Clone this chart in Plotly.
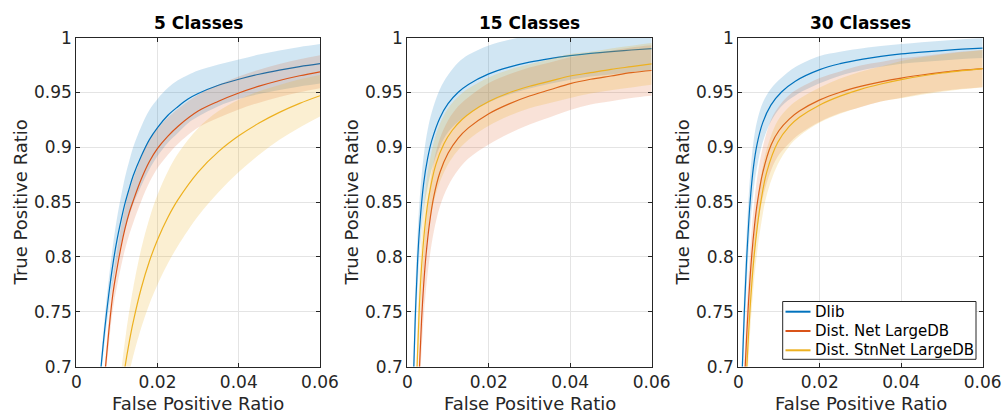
import plotly.graph_objects as go

# ---------------- data ----------------
PANEL_TITLES = ["5 Classes", "15 Classes", "30 Classes"]
SERIES_NAMES = ["Dlib", "Dist. Net LargeDB", "Dist. StnNet LargeDB"]
X_TICKS = [0, 0.02, 0.04, 0.06]
X_TICK_TEXT = ["0", "0.02", "0.04", "0.06"]
Y_TICKS = [0.7, 0.75, 0.8, 0.85, 0.9, 0.95, 1.0]
Y_TICK_TEXT = ["0.7", "0.75", "0.8", "0.85", "0.9", "0.95", "1"]

# ---- 5 classes ----
FPR_DLIB_5 = [0.0055, 0.0061, 0.007, 0.008, 0.009, 0.010, 0.011, 0.012, 0.013, 0.014, 0.016, 0.018, 0.020, 0.0225, 0.025, 0.0275, 0.030, 0.035, 0.040, 0.045, 0.050, 0.055, 0.060]
TPR_DLIB_5 = [0.673, 0.700, 0.734, 0.766, 0.793, 0.815, 0.833, 0.849, 0.862, 0.874, 0.892, 0.907, 0.918, 0.929, 0.937, 0.944, 0.949, 0.9565, 0.962, 0.9666, 0.9703, 0.9735, 0.9762]
SD_DLIB_5 = [0.006, 0.008, 0.011, 0.014, 0.017, 0.020, 0.022, 0.024, 0.025, 0.026, 0.027, 0.027, 0.026, 0.025, 0.024, 0.022, 0.021, 0.019, 0.018, 0.018, 0.018, 0.018, 0.018]

FPR_NET_5 = [0.0066, 0.0072, 0.008, 0.009, 0.010, 0.011, 0.012, 0.013, 0.014, 0.016, 0.018, 0.020, 0.0225, 0.025, 0.030, 0.035, 0.040, 0.045, 0.050, 0.055, 0.060]
TPR_NET_5 = [0.671, 0.700, 0.732, 0.766, 0.789, 0.809, 0.826, 0.840, 0.851, 0.871, 0.887, 0.899, 0.910, 0.919, 0.933, 0.942, 0.9495, 0.9557, 0.9609, 0.9652, 0.9688]
SD_NET_5 = [0.008, 0.010, 0.012, 0.014, 0.016, 0.018, 0.019, 0.020, 0.020, 0.020, 0.019, 0.018, 0.017, 0.016, 0.015, 0.015, 0.015, 0.015, 0.015, 0.015, 0.015]

FPR_STN_5 = [0.011, 0.012, 0.013, 0.014, 0.016, 0.018, 0.020, 0.0225, 0.025, 0.030, 0.035, 0.040, 0.045, 0.050, 0.055, 0.060]
TPR_STN_5 = [0.674, 0.700, 0.7217, 0.7405, 0.7717, 0.7961, 0.8157, 0.8357, 0.852, 0.8774, 0.896, 0.9104, 0.9221, 0.9318, 0.940, 0.947]
SD_STN_5 = [0.020, 0.024, 0.028, 0.031, 0.036, 0.039, 0.041, 0.042, 0.042, 0.040, 0.037, 0.033, 0.029, 0.025, 0.022, 0.019]

# ---- 15 classes ----
FPR_DLIB_15 = [0.0012, 0.0016, 0.002, 0.0025, 0.003, 0.004, 0.005, 0.006, 0.008, 0.010, 0.0125, 0.015, 0.020, 0.025, 0.030, 0.035, 0.040, 0.045, 0.050, 0.055, 0.060]
TPR_DLIB_15 = [0.635, 0.700, 0.749, 0.794, 0.826, 0.8666, 0.890, 0.906, 0.9268, 0.9398, 0.9502, 0.9573, 0.9669, 0.9731, 0.9776, 0.9809, 0.9835, 0.9856, 0.9873, 0.9887, 0.9899]
SD_DLIB_15 = [0.022, 0.024, 0.025, 0.025, 0.025, 0.025, 0.026, 0.026, 0.026, 0.026, 0.027, 0.027, 0.026, 0.025, 0.024, 0.023, 0.022, 0.021, 0.021, 0.020, 0.020]

FPR_NET_15 = [0.0025, 0.003, 0.0035, 0.004, 0.0046, 0.0055, 0.0065, 0.008, 0.010, 0.0125, 0.015, 0.020, 0.025, 0.030, 0.035, 0.040, 0.045, 0.050, 0.055, 0.060]
TPR_NET_15 = [0.6435, 0.700, 0.742, 0.7735, 0.802, 0.832, 0.855, 0.877, 0.8945, 0.9084, 0.9177, 0.9306, 0.9396, 0.9467, 0.9524, 0.958, 0.962, 0.965, 0.968, 0.970]
SD_NET_15 = [0.024, 0.026, 0.028, 0.030, 0.031, 0.032, 0.032, 0.031, 0.030, 0.029, 0.028, 0.028, 0.027, 0.026, 0.025, 0.024, 0.023, 0.023, 0.023, 0.023]

FPR_STN_15 = [0.0019, 0.0024, 0.0029, 0.0035, 0.0045, 0.0053, 0.007, 0.009, 0.011, 0.0135, 0.016, 0.020, 0.025, 0.030, 0.035, 0.040, 0.045, 0.050, 0.055, 0.060]
TPR_STN_15 = [0.628, 0.700, 0.750, 0.791, 0.834, 0.8555, 0.8842, 0.9032, 0.9153, 0.9255, 0.9329, 0.9417, 0.9497, 0.9556, 0.9603, 0.965, 0.968, 0.971, 0.9735, 0.976]
SD_STN_15 = [0.024, 0.026, 0.027, 0.028, 0.028, 0.028, 0.027, 0.026, 0.025, 0.024, 0.023, 0.022, 0.021, 0.020, 0.020, 0.020, 0.019, 0.019, 0.019, 0.019]

# ---- 30 classes ----
FPR_DLIB_30 = [0.0006, 0.0010, 0.0015, 0.0021, 0.0029, 0.0037, 0.0046, 0.006, 0.008, 0.0106, 0.014, 0.020, 0.025, 0.0306, 0.035, 0.040, 0.045, 0.050, 0.055, 0.060]
TPR_DLIB_30 = [0.650, 0.700, 0.7517, 0.8013, 0.8501, 0.8814, 0.9027, 0.9225, 0.9384, 0.9504, 0.9603, 0.9708, 0.9762, 0.9804, 0.9829, 0.9851, 0.9868, 0.9882, 0.9894, 0.9904]
SD_DLIB_30 = [0.020, 0.022, 0.023, 0.024, 0.024, 0.023, 0.021, 0.018, 0.015, 0.013, 0.013, 0.0125, 0.011, 0.010, 0.0095, 0.009, 0.009, 0.009, 0.009, 0.009]

FPR_NET_30 = [0.0013, 0.0017, 0.0024, 0.0032, 0.004, 0.0047, 0.006, 0.0081, 0.010, 0.0125, 0.015, 0.020, 0.025, 0.030, 0.035, 0.040, 0.045, 0.050, 0.055, 0.060]
TPR_NET_30 = [0.663, 0.700, 0.7519, 0.7967, 0.8291, 0.8499, 0.8769, 0.9026, 0.9153, 0.9257, 0.933, 0.9432, 0.9502, 0.9555, 0.9597, 0.9631, 0.9659, 0.9683, 0.9703, 0.9718]
SD_NET_30 = [0.022, 0.023, 0.024, 0.024, 0.024, 0.024, 0.023, 0.023, 0.022, 0.022, 0.021, 0.020, 0.019, 0.019, 0.018, 0.018, 0.017, 0.017, 0.017, 0.017]

FPR_STN_30 = [0.0017, 0.0021, 0.0029, 0.0038, 0.0047, 0.0055, 0.007, 0.0097, 0.0125, 0.015, 0.020, 0.025, 0.030, 0.035, 0.040, 0.045, 0.050, 0.055, 0.060]
TPR_STN_30 = [0.668, 0.700, 0.7532, 0.7973, 0.8286, 0.8496, 0.8776, 0.9045, 0.919, 0.9273, 0.9386, 0.9466, 0.9528, 0.9577, 0.9617, 0.965, 0.9677, 0.9699, 0.9718]
SD_STN_30 = [0.020, 0.021, 0.022, 0.022, 0.022, 0.022, 0.021, 0.020, 0.018, 0.017, 0.016, 0.016, 0.016, 0.016, 0.017, 0.017, 0.017, 0.017, 0.017]

PANELS = [
    [(FPR_DLIB_5, TPR_DLIB_5, SD_DLIB_5), (FPR_NET_5, TPR_NET_5, SD_NET_5), (FPR_STN_5, TPR_STN_5, SD_STN_5)],
    [(FPR_DLIB_15, TPR_DLIB_15, SD_DLIB_15), (FPR_NET_15, TPR_NET_15, SD_NET_15), (FPR_STN_15, TPR_STN_15, SD_STN_15)],
    [(FPR_DLIB_30, TPR_DLIB_30, SD_DLIB_30), (FPR_NET_30, TPR_NET_30, SD_NET_30), (FPR_STN_30, TPR_STN_30, SD_STN_30)],
]

# ---------------- style ----------------
LINE_COLORS = ["#0072BD", "#D95319", "#EDB120"]
BAND_COLORS = ["rgba(0,114,189,0.18)", "rgba(217,83,25,0.17)", "rgba(237,177,32,0.2)"]
FONT = "DejaVu Sans"
TXT = "#262626"
W, H = 1003, 414
X_DOMAINS = [[76.3 / W, 320.0 / W], [407.3 / W, 651.7 / W], [738.3 / W, 982.7 / W]]
Y_DOMAIN = [(H - 366.6) / H, (H - 37.6) / H]
SMOOTH = 1.0

fig = go.Figure()

for p, series in enumerate(PANELS):
    ax = "" if p == 0 else str(p + 1)
    for s, (fpr, tpr, sd) in enumerate(series):
        lower = [m - d for m, d in zip(tpr, sd)]
        upper = [m + d for m, d in zip(tpr, sd)]
        fig.add_trace(go.Scatter(x=fpr, y=lower, mode="lines",
                                 line=dict(width=0, shape="spline", smoothing=SMOOTH, color=LINE_COLORS[s]),
                                 hoverinfo="skip", showlegend=False,
                                 xaxis="x" + ax, yaxis="y" + ax))
        fig.add_trace(go.Scatter(x=fpr, y=upper, mode="lines", fill="tonexty",
                                 fillcolor=BAND_COLORS[s],
                                 line=dict(width=0, shape="spline", smoothing=SMOOTH, color=LINE_COLORS[s]),
                                 hoverinfo="skip", showlegend=False,
                                 xaxis="x" + ax, yaxis="y" + ax))
        fig.add_trace(go.Scatter(x=fpr, y=tpr, mode="lines", name=SERIES_NAMES[s],
                                 line=dict(width=1.2, shape="spline", smoothing=SMOOTH, color=LINE_COLORS[s]),
                                 showlegend=False,
                                 xaxis="x" + ax, yaxis="y" + ax))

axis_common = dict(showline=True, linecolor=TXT, linewidth=1, mirror="ticks",
                   ticks="inside", ticklen=4, tickcolor=TXT, automargin=False,
                   showgrid=True, gridcolor="#e4e4e4", gridwidth=1, zeroline=False,
                   tickfont=dict(family=FONT, size=17, color=TXT))

layout = dict(width=W, height=H, margin=dict(l=0, r=0, t=0, b=0, autoexpand=False),
              paper_bgcolor="white", plot_bgcolor="white", showlegend=False,
              font=dict(family=FONT, color=TXT))
annotations = []
shapes = []
for p in range(3):
    ax = "" if p == 0 else str(p + 1)
    layout["xaxis" + ax] = dict(axis_common, domain=X_DOMAINS[p], range=[0, 0.06],
                                tickvals=X_TICKS, ticktext=X_TICK_TEXT,
                                anchor="y" + ax)
    layout["yaxis" + ax] = dict(axis_common, domain=Y_DOMAIN, range=[0.7, 1.0],
                                tickvals=Y_TICKS, ticktext=Y_TICK_TEXT,
                                anchor="x" + ax)
    xc = (X_DOMAINS[p][0] + X_DOMAINS[p][1]) / 2
    annotations.append(dict(text="<b>" + PANEL_TITLES[p] + "</b>", x=xc, y=(H - 23) / H,
                            xref="paper", yref="paper", showarrow=False,
                            xanchor="center", yanchor="middle",
                            font=dict(family=FONT, size=17, color="black")))
    annotations.append(dict(text="False Positive Ratio", x=xc, y=(H - 403) / H,
                            xref="paper", yref="paper", showarrow=False,
                            xanchor="center", yanchor="middle",
                            font=dict(family=FONT, size=18, color=TXT)))
    annotations.append(dict(text="True Positive Ratio", x=(X_DOMAINS[p][0] * W - 56) / W,
                            y=(Y_DOMAIN[0] + Y_DOMAIN[1]) / 2,
                            xref="paper", yref="paper", showarrow=False, textangle=-90,
                            xanchor="center", yanchor="middle",
                            font=dict(family=FONT, size=18, color=TXT)))

# legend box drawn inside the third panel (MATLAB style)
LEG_L, LEG_R, LEG_T, LEG_B = 782.7, 976.0, 301.5, 359.3
shapes.append(dict(type="rect", xref="paper", yref="paper",
                   x0=LEG_L / W, x1=LEG_R / W, y0=(H - LEG_B) / H, y1=(H - LEG_T) / H,
                   line=dict(color=TXT, width=1), fillcolor="white", layer="above"))
for s, name in enumerate(SERIES_NAMES):
    yy = (H - (311.7 + 19.3 * s)) / H
    shapes.append(dict(type="line", xref="paper", yref="paper",
                       x0=785.5 / W, x1=810.5 / W, y0=yy, y1=yy,
                       line=dict(color=LINE_COLORS[s], width=2), layer="above"))
    annotations.append(dict(text=name, x=812.5 / W, y=yy, xref="paper", yref="paper",
                            showarrow=False, xanchor="left", yanchor="middle",
                            font=dict(family=FONT, size=15, color="black")))

layout["annotations"] = annotations
layout["shapes"] = shapes
fig.update_layout(**layout)

fig.write_html("out.html")
